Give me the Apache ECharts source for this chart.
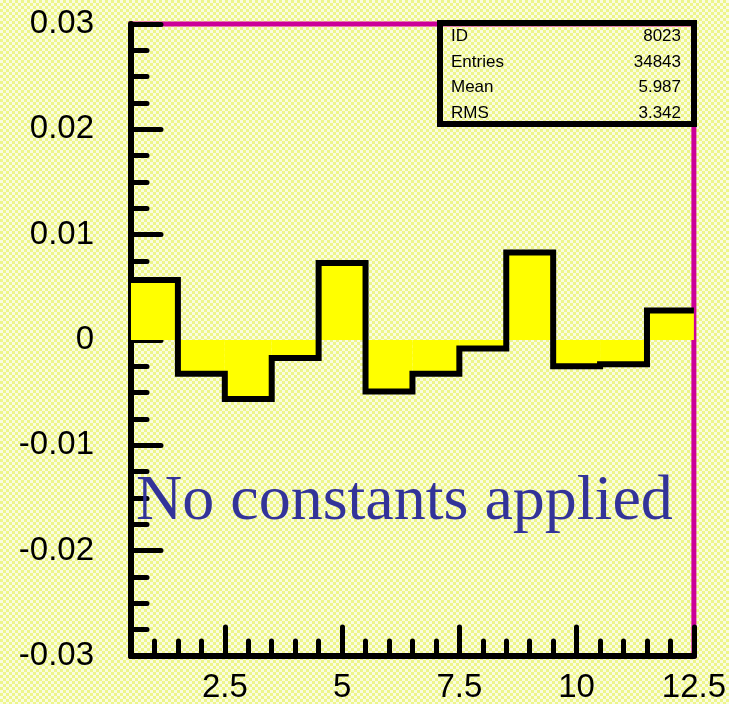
<!DOCTYPE html>
<html>
<head>
<meta charset="utf-8">
<script src="https://cdn.jsdelivr.net/npm/echarts@6/dist/echarts.min.js"></script>
<style>
  html, body { margin: 0; padding: 0; }
  body {
    width: 729px; height: 704px;
    background-color: #fafce0;
    background-image: conic-gradient(#edf58a 25%, transparent 0 50%, #edf58a 0 75%, transparent 0);
    background-size: 6px 6px;
  }
  #main { width: 729px; height: 704px; }
</style>
</head>
<body>
<div id="main"></div>
<script>
// bin edges of the histogram (12 bins, width 1)
var binEdges = [0.5, 1.5, 2.5, 3.5, 4.5, 5.5, 6.5, 7.5, 8.5, 9.5, 10.5, 11.5, 12.5];
var binValues = [0.0057, -0.0032, -0.0056, -0.0017, 0.0073, -0.0049, -0.0032, -0.0008, 0.0083, -0.0025, -0.0023, 0.0028];

var xMajorTicks = [2.5, 5, 7.5, 10, 12.5];
var xMinorTicks = [1, 1.5, 2, 3, 3.5, 4, 4.5, 5.5, 6, 6.5, 7, 8, 8.5, 9, 9.5, 10.5, 11, 11.5, 12];

var statNames = ['ID', 'Entries', 'Mean', 'RMS'];
var statValues = ['8023', '34843', '5.987', '3.342'];

var chart = echarts.init(document.getElementById('main'));

// fill rectangles + step outline
var fillData = [];
var outlineData = [];
for (var i = 0; i < binValues.length; i++) {
  fillData.push([binEdges[i], binEdges[i + 1], binValues[i]]);
  outlineData.push([binEdges[i], binValues[i]]);
}
outlineData.push([binEdges[binEdges.length - 1], binValues[binValues.length - 1]]);

var tickStyle = { color: '#000', width: 5, cap: 'round' };

var graphics = [];
// stats box
graphics.push({
  type: 'rect', z: 100,
  shape: { x: 440, y: 23, width: 254, height: 101 },
  style: { fill: 'none', stroke: '#000', lineWidth: 6 }
});
for (var k = 0; k < statNames.length; k++) {
  graphics.push({
    type: 'text', z: 101, left: 451, top: 28 + k * 25.5,
    style: { text: statNames[k], font: '17px "Liberation Sans", Arial', fill: '#000' }
  });
  graphics.push({
    type: 'text', z: 101, right: 48, top: 28 + k * 25.5,
    style: { text: statValues[k], font: '17px "Liberation Sans", Arial', fill: '#000', align: 'right' }
  });
}
graphics.push({
  type: 'text', z: 100, left: 136, top: 470,
  style: { text: 'No constants applied', font: '64px "Liberation Serif", "Times New Roman", serif', fill: '#333399' }
});

var option = {
  backgroundColor: 'transparent',
  animation: false,
  grid: {
    left: 131, right: 35, top: 24, bottom: 47,
    show: true, backgroundColor: 'transparent',
    borderColor: '#cc0099', borderWidth: 5
  },
  xAxis: [
    {
      type: 'value', min: 0.5, max: 12.5, position: 'bottom',
      splitLine: { show: false },
      axisLine: { onZero: false, lineStyle: { color: '#000', width: 6 } },
      axisTick: { inside: true, length: 29, customValues: xMajorTicks, lineStyle: tickStyle },
      axisLabel: {
        customValues: xMajorTicks, margin: 15,
        fontSize: 33, fontFamily: '"Liberation Sans", Arial', color: '#000'
      }
    },
    {
      type: 'value', min: 0.5, max: 12.5, position: 'bottom',
      splitLine: { show: false },
      axisLine: { show: false, onZero: false },
      axisTick: { inside: true, length: 15, customValues: xMinorTicks, lineStyle: tickStyle },
      axisLabel: { show: false }
    }
  ],
  yAxis: {
    type: 'value', min: -0.03, max: 0.03, interval: 0.01,
    splitLine: { show: false },
    axisLine: { onZero: false, lineStyle: { color: '#000', width: 6 } },
    axisTick: { inside: true, length: 30, lineStyle: tickStyle },
    minorTick: { show: true, splitNumber: 4, length: 16, lineStyle: tickStyle },
    axisLabel: {
      margin: 37, fontSize: 33, fontFamily: '"Liberation Sans", Arial', color: '#000'
    }
  },
  series: [
    {
      type: 'custom',
      data: fillData,
      z: 1,
      renderItem: function (params, api) {
        var p0 = api.coord([api.value(0), 0]);
        var p1 = api.coord([api.value(1), api.value(2)]);
        return {
          type: 'rect',
          shape: { x: p0[0], y: Math.min(p0[1], p1[1]), width: p1[0] - p0[0], height: Math.abs(p1[1] - p0[1]) },
          style: { fill: '#ffff00' }
        };
      }
    },
    {
      type: 'line',
      data: outlineData,
      step: 'end',
      z: 2,
      symbol: 'none',
      lineStyle: { color: '#000', width: 6, join: 'miter', cap: 'butt' }
    }
  ],
  graphic: graphics
};

chart.setOption(option);
</script>
</body>
</html>
